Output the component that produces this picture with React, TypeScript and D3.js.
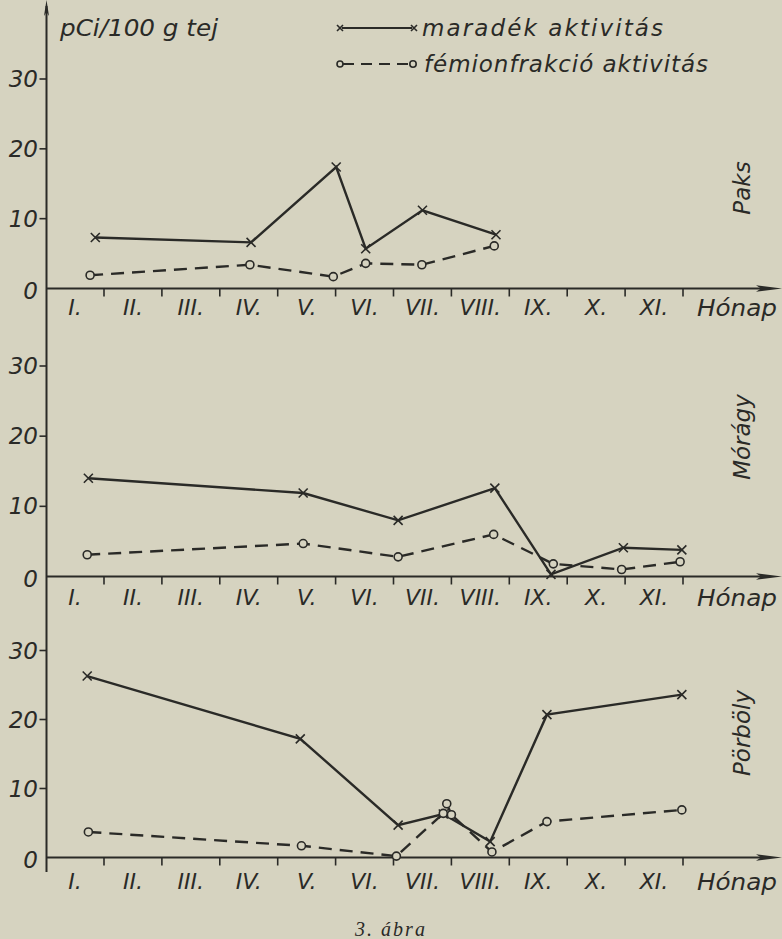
import React from 'react';
import * as d3 from 'd3';

// ---------- data ----------
const monthLabels = ['I.', 'II.', 'III.', 'IV.', 'V.', 'VI.', 'VII.', 'VIII.', 'IX.', 'X.', 'XI.'];
const xAxisTitle = 'Hónap';
const yTickValues = [0, 10, 20, 30];
const yAxisTitle = 'pCi/100 g tej';
const legendLabels = ['maradék aktivitás', 'fémionfrakció aktivitás'];
const stationNames = ['Paks', 'Mórágy', 'Pörböly'];
const caption = '3. ábra';

// x = position in months from the start of the year, y = pCi/100 g
const paksMaradekX = [0.85, 3.54, 5.01, 5.52, 6.5, 7.77];
const paksMaradekY = [7.3, 6.6, 17.4, 5.7, 11.2, 7.7];
const paksFemionX = [0.76, 3.52, 4.96, 5.52, 6.49, 7.74];
const paksFemionY = [1.9, 3.4, 1.7, 3.6, 3.4, 6.1];

const moragyMaradekX = [0.73, 4.44, 6.08, 7.75, 8.72, 9.97, 10.98];
const moragyMaradekY = [14.0, 11.9, 8.0, 12.6, 0.3, 4.1, 3.8];
const moragyFemionX = [0.71, 4.44, 6.08, 7.73, 8.76, 9.94, 10.95];
const moragyFemionY = [3.1, 4.7, 2.8, 6.0, 1.8, 1.0, 2.1];

const porbolyMaradekX = [0.71, 4.39, 6.08, 6.86, 7.67, 8.65, 10.98];
const porbolyMaradekY = [26.3, 17.2, 4.7, 6.3, 2.3, 20.7, 23.6];
const porbolyFemionX = [0.73, 4.41, 6.05, 6.86, 6.92, 7.0, 7.7, 8.65, 10.98];
const porbolyFemionY = [3.7, 1.7, 0.2, 6.4, 7.8, 6.2, 0.8, 5.2, 6.9];

// ---------- layout ----------
const W = 782;
const H = 939;
const INK = '#2a2a27';
const PAPER = '#d6d3c0';
const FONT = "'DejaVu Sans', 'Noto Sans', sans-serif";
const AXIS_X = 46.5;

const panels = [
  { name: stationNames[0], baseline: 288.5, top30: 79, labelOffset: 19, nameY: 188,
    mx: paksMaradekX, my: paksMaradekY, fx: paksFemionX, fy: paksFemionY },
  { name: stationNames[1], baseline: 576.5, top30: 366, labelOffset: 21, nameY: 437,
    mx: moragyMaradekX, my: moragyMaradekY, fx: moragyFemionX, fy: moragyFemionY },
  { name: stationNames[2], baseline: 857.5, top30: 650.5, labelOffset: 24, nameY: 733,
    mx: porbolyMaradekX, my: porbolyMaradekY, fx: porbolyFemionX, fy: porbolyFemionY },
];

const x = d3.scaleLinear().domain([0, 12]).range([46.1, 46.1 + 12 * 57.9]);

function Cross({ cx, cy, s = 4.5 }: { cx: number; cy: number; s?: number }) {
  return (
    <path d={`M${cx - s},${cy - s}L${cx + s},${cy + s}M${cx - s},${cy + s}L${cx + s},${cy - s}`}
      stroke={INK} strokeWidth={1.6} fill="none" />
  );
}

function Ring({ cx, cy, r = 4 }: { cx: number; cy: number; r?: number }) {
  return <circle cx={cx} cy={cy} r={r} fill={PAPER} stroke={INK} strokeWidth={1.6} />;
}

function Panel({ p }: { p: typeof panels[number] }) {
  const y = d3.scaleLinear().domain([0, 30]).range([p.baseline, p.top30]);
  const line = d3.line<[number, number]>().x((d) => x(d[0])).y((d) => y(d[1]));
  const mPts: [number, number][] = p.mx.map((v, i) => [v, p.my[i]]);
  const fPts: [number, number][] = p.fx.map((v, i) => [v, p.fy[i]]);
  const b = p.baseline;
  return (
    <g>
      {/* horizontal axis with arrow */}
      <line x1={AXIS_X} x2={770} y1={b} y2={b} stroke={INK} strokeWidth={2} />
      <path d={`M782,${b}L756,${b - 3.2}L761,${b}L756,${b + 3.2}Z`} fill={INK} />
      {/* month boundary ticks */}
      {d3.range(1, 12).map((k) => (
        <line key={k} x1={x(k)} x2={x(k)} y1={b} y2={b + 8} stroke={INK} strokeWidth={1.6} />
      ))}
      {/* month labels */}
      {monthLabels.map((m, i) => (
        <text key={m} x={x(i + 0.5)} y={b + p.labelOffset} textAnchor="middle" dominantBaseline="central"
          fontFamily={FONT} fontStyle="italic" fontSize={22} fill={INK}>{m}</text>
      ))}
      <text x={697} y={b + p.labelOffset} dominantBaseline="central" fontFamily={FONT} fontStyle="italic"
        fontSize={23} fill={INK} textLength={80} lengthAdjust="spacingAndGlyphs">{xAxisTitle}</text>
      {/* y ticks */}
      {yTickValues.map((v) => (
        <g key={v}>
          {v > 0 && <line x1={AXIS_X - 7} x2={AXIS_X} y1={y(v)} y2={y(v)} stroke={INK} strokeWidth={1.6} />}
          <text x={38} y={y(v) + (v === 0 ? 2 : 0)} textAnchor="end" dominantBaseline="central"
            fontFamily={FONT} fontStyle="italic" fontSize={23} fill={INK}>{v}</text>
        </g>
      ))}
      {/* series */}
      <path d={line(fPts) ?? ''} fill="none" stroke={INK} strokeWidth={2.4} strokeDasharray="13 8" />
      <path d={line(mPts) ?? ''} fill="none" stroke={INK} strokeWidth={2.4} />
      {mPts.map((d, i) => <Cross key={'m' + i} cx={x(d[0])} cy={y(d[1])} />)}
      {fPts.map((d, i) => <Ring key={'f' + i} cx={x(d[0])} cy={y(d[1])} />)}
      {/* station name */}
      <text transform={`translate(742,${p.nameY}) rotate(-90)`} textAnchor="middle" dominantBaseline="central"
        fontFamily={FONT} fontStyle="italic" fontSize={23} fill={INK}>{p.name}</text>
    </g>
  );
}

export default function App() {
  return (
    <svg width={W} height={H} viewBox={`0 0 ${W} ${H}`}
      style={{ position: 'absolute', left: 0, top: 0, display: 'block' }}>
      <rect x={0} y={0} width={W} height={H} fill={PAPER} />
      {/* vertical axis */}
      <line x1={AXIS_X} x2={AXIS_X} y1={6} y2={872} stroke={INK} strokeWidth={2} />
      <path d={`M${AXIS_X},0L${AXIS_X - 2.5},16L${AXIS_X},12L${AXIS_X + 2.5},16Z`} fill={INK} />
      <text x={60} y={36} fontFamily={FONT} fontStyle="italic" fontSize={23} fill={INK}
        textLength={158} lengthAdjust="spacingAndGlyphs">{yAxisTitle}</text>
      {/* legend */}
      <g>
        <line x1={342} x2={412} y1={28} y2={28} stroke={INK} strokeWidth={2} />
        <Cross cx={340} cy={28} s={3} />
        <Cross cx={414} cy={28} s={3} />
        <text x={422} y={28} dominantBaseline="central" fontFamily={FONT} fontStyle="italic" fontSize={23}
          fill={INK} textLength={241} lengthAdjust="spacing">{legendLabels[0]}</text>
        <line x1={343} x2={410} y1={64} y2={64} stroke={INK} strokeWidth={2} strokeDasharray="11 7" />
        <Ring cx={340} cy={64} r={3} />
        <Ring cx={413} cy={64} r={3.2} />
        <text x={424} y={64} dominantBaseline="central" fontFamily={FONT} fontStyle="italic" fontSize={23}
          fill={INK} textLength={284} lengthAdjust="spacing">{legendLabels[1]}</text>
      </g>
      {panels.map((p) => <Panel key={p.name} p={p} />)}
      <text x={391} y={929} textAnchor="middle" dominantBaseline="central"
        fontFamily="'Liberation Serif', 'DejaVu Serif', serif" fontStyle="italic" fontSize={20}
        letterSpacing={2} fill={INK}>{caption}</text>
    </svg>
  );
}
